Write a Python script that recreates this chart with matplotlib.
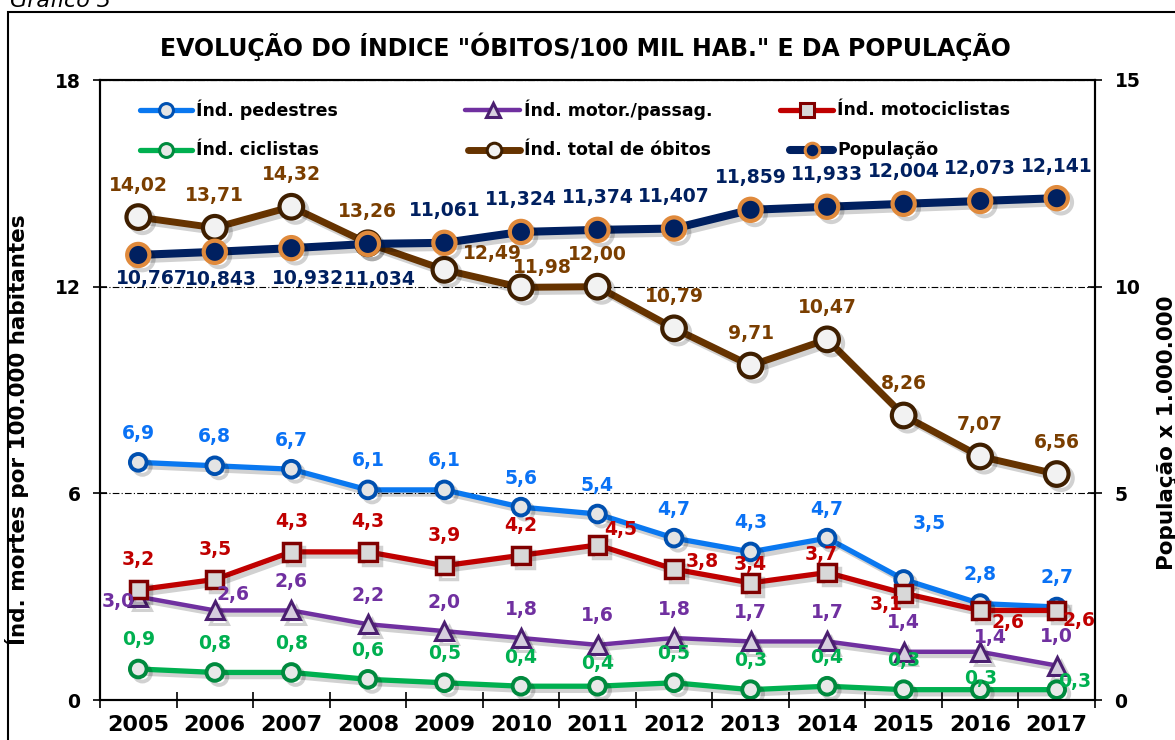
import numpy as np
import matplotlib.pyplot as plt
from matplotlib.lines import Line2D
from matplotlib.patches import Rectangle
import matplotlib.patheffects as pe

# Data
years = ['2005', '2006', '2007', '2008', '2009', '2010', '2011',
         '2012', '2013', '2014', '2015', '2016', '2017']
pedestres = [6.9, 6.8, 6.7, 6.1, 6.1, 5.6, 5.4, 4.7, 4.3, 4.7, 3.5, 2.8, 2.7]
motor_passag = [3.0, 2.6, 2.6, 2.2, 2.0, 1.8, 1.6, 1.8, 1.7, 1.7, 1.4, 1.4, 1.0]
motociclistas = [3.2, 3.5, 4.3, 4.3, 3.9, 4.2, 4.5, 3.8, 3.4, 3.7, 3.1, 2.6, 2.6]
ciclistas = [0.9, 0.8, 0.8, 0.6, 0.5, 0.4, 0.4, 0.5, 0.3, 0.4, 0.3, 0.3, 0.3]
total_obitos = [14.02, 13.71, 14.32, 13.26, 12.49, 11.98, 12.00,
                10.79, 9.71, 10.47, 8.26, 7.07, 6.56]
populacao = [10.767, 10.843, 10.932, 11.034, 11.061, 11.324, 11.374,
             11.407, 11.859, 11.933, 12.004, 12.073, 12.141]

W, H = 1175, 740


def fx(px):
    return px / W


def fy(py):
    return (H - py) / H


def offs(default, special):
    # label offsets in pixels (dx right, dy down) -> offset points
    out = []
    for i in range(len(years)):
        dx, dy = special.get(i, default)
        out.append((dx * 0.72, -dy * 0.72))
    return out


fig = plt.figure(figsize=(W / 100, H / 100), dpi=100)
ax = fig.add_axes([fx(100), fy(700), fx(995), 620 / H])
ax2 = ax.twinx()

x = np.arange(len(years))
shadow = [pe.SimpleLineShadow(offset=(3, -3), alpha=0.18, shadow_color='black'), pe.Normal()]

series = [
    # values, line colour, lw, marker, ms, face, edge, mew, label colour, fmt, offsets
    (pedestres, '#0A78F0', 3.8, 'o', 12, '#E4E4E4', '#0050B0', 2.8, '#0A72F5', '{:.1f}',
     offs((0, -29), {10: (26, -56)})),
    (motor_passag, '#7030A0', 3.2, '^', 13, '#D6CEDE', '#4B1F70', 2.2, '#7030A0', '{:.1f}',
     offs((0, -29), {0: (-20, 5), 1: (18, -16), 11: (10, -14)})),
    (motociclistas, '#C00000', 3.8, 's', 12.5, '#D8D8D8', '#800000', 2.5, '#C00000', '{:.1f}',
     offs((0, -30), {6: (23, -15), 7: (28, -8), 8: (0, -18), 9: (-6, -18),
                      10: (-17, 11), 11: (28, 12), 12: (22, 10)})),
    (ciclistas, '#00B050', 3.8, 'o', 12, '#E8E8E8', '#008A3E', 2.8, '#00B050', '{:.1f}',
     offs((0, -29), {6: (0, -23), 11: (0, -11), 12: (18, -8)})),
    (total_obitos, '#663300', 5.0, 'o', 17, '#F2F2F2', '#3F1F00', 3.0, '#7A3E00', '{:.2f}',
     offs((0, -32), {4: (48, -16), 5: (21, -20)})),
]

for vals, lc, lw, mk, ms, mf, me, mew, tc, fmt, off in series:
    ax.plot(x, vals, color=lc, lw=lw, marker=mk, ms=ms, mfc=mf, mec=me, mew=mew,
            path_effects=shadow, zorder=3)
    for xi, v, o in zip(x, vals, off):
        ax.annotate(fmt.format(v).replace('.', ','), (xi, v), xytext=o,
                    textcoords='offset points', ha='center', va='center',
                    fontsize=13.5, fontweight='bold', color=tc, zorder=5)

pop_off = offs((0, -32), {0: (14, 24), 1: (6, 28), 2: (17, 30), 3: (12, 36)})
ax2.plot(x, populacao, color='#002060', lw=5.8, marker='o', ms=16, mfc='#002060',
         mec='#E08A3C', mew=3, path_effects=shadow, zorder=3)
for xi, v, o in zip(x, populacao, pop_off):
    ax2.annotate('{:.3f}'.format(v).replace('.', ','), (xi, v), xytext=o,
                 textcoords='offset points', ha='center', va='center',
                 fontsize=13.5, fontweight='bold', color='#002060', zorder=5)

# axes
ax.set_xlim(-0.5, len(years) - 0.5)
ax.set_ylim(0, 18)
ax2.set_ylim(0, 15)
ax.set_yticks([0, 6, 12, 18])
ax2.set_yticks([0, 5, 10, 15])
ax.set_xticks(x)
ax.set_xticklabels(years)
ax.set_xticks(np.arange(-0.5, len(years)), minor=True)
ax.tick_params(axis='x', which='major', length=0, pad=11, labelsize=16)
ax.tick_params(axis='x', which='minor', direction='inout', length=12, width=1.2)
ax.tick_params(axis='y', direction='inout', length=10, width=1.2, pad=9, labelsize=13.5)
ax2.tick_params(axis='y', direction='inout', length=10, width=1.2, pad=9, labelsize=13.5)
for lab in ax.get_xticklabels() + ax.get_yticklabels() + ax2.get_yticklabels():
    lab.set_fontweight('bold')
for a in (ax, ax2):
    for s in a.spines.values():
        s.set_linewidth(1.5)
ax.grid(axis='y', color='black', lw=0.8, linestyle=(0, (6, 2, 1, 2)))
ax.set_axisbelow(True)

ax.set_ylabel('Índ. mortes por 100.000 habitantes', fontsize=15.5, fontweight='bold')
ax.yaxis.set_label_coords((29 - 100) / 995, (700 - 430) / 620)
ax2.set_ylabel('População x 1.000.000', fontsize=15.5, fontweight='bold', rotation=90)
ax2.yaxis.set_label_coords((1157 - 100) / 995, (700 - 433) / 620)

fig.text(fx(585), fy(47), 'EVOLUÇÃO DO ÍNDICE "ÓBITOS/100 MIL HAB." E DA POPULAÇÃO',
         ha='center', va='center', fontsize=17, fontweight='bold')
fig.text(fx(10), fy(7), 'Gráfico 3', ha='left', va='baseline', fontsize=16, style='italic')

# outer frame
fig.patches.append(Rectangle((fx(8), -0.05), 1.2, fy(12) + 0.05, transform=fig.transFigure,
                             fill=False, lw=1.5, ec='black'))

# legend
legend_items = [
    ('Índ. pedestres', 140, 192, 110, '#0A78F0', 3.8, 'o', 10, '#E4E4E4', '#0050B0'),
    ('Índ. motor./passag.', 465, 520, 110, '#7030A0', 3.2, '^', 10.5, '#D6CEDE', '#4B1F70'),
    ('Índ. motociclistas', 780, 833, 110, '#C00000', 3.8, 's', 10, '#D8D8D8', '#800000'),
    ('Índ. ciclistas', 140, 192, 150, '#00B050', 3.8, 'o', 10, '#E8E8E8', '#008A3E'),
    ('Índ. total de óbitos', 468, 520, 150, '#663300', 5.0, 'o', 10.5, '#F2F2F2', '#3F1F00'),
    ('População', 790, 833, 150, '#002060', 5.8, 'o', 10.5, '#002060', '#E08A3C'),
]
for name, x0, x1, yy, lc, lw, mk, ms, mf, me in legend_items:
    fig.add_artist(Line2D([fx(x0), fx(x1)], [fy(yy), fy(yy)], color=lc, lw=lw,
                          solid_capstyle='round'))
    fig.add_artist(Line2D([fx((x0 + x1) / 2)], [fy(yy)], marker=mk, ms=ms, mfc=mf,
                          mec=me, mew=2.2, lw=0))
    fig.text(fx(x1 + 4), fy(yy), name, ha='left', va='center', fontsize=12.5,
             fontweight='bold')

fig.savefig('out.png', dpi=100)
